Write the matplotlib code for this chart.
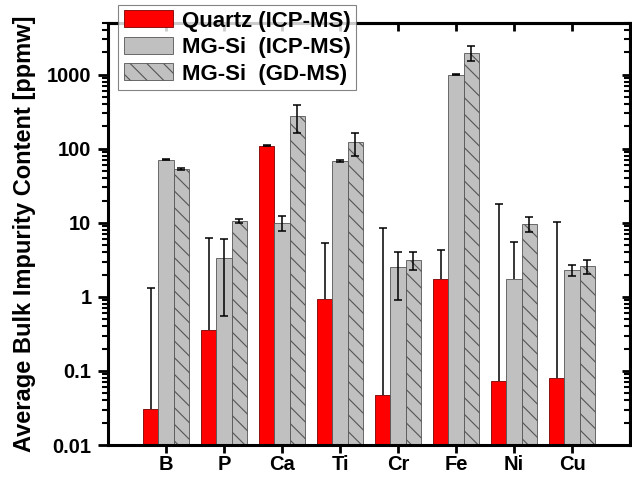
import numpy as np
import matplotlib.pyplot as plt

plt.rcParams['font.family'] = ['Liberation Sans', 'DejaVu Sans']
plt.rcParams['font.weight'] = 'bold'
plt.rcParams['hatch.linewidth'] = 0.8
plt.rcParams['hatch.color'] = '#505050'

elements = ['B', 'P', 'Ca', 'Ti', 'Cr', 'Fe', 'Ni', 'Cu']

quartz_icp = [0.031, 0.36, 110, 0.95, 0.047, 1.73, 0.073, 0.081]
quartz_icp_err = [1.30, 5.8, 1.0, 4.35, 8.6, 2.6, 17.7, 10.3]

mgsi_icp = [71, 3.3, 10.0, 68, 2.5, 1000, 1.73, 2.3]
mgsi_icp_err = [1.2, 2.75, 2.3, 1.5, 1.6, 8, 3.85, 0.39]

mgsi_gdms = [53, 10.6, 277, 122, 3.15, 1990, 9.7, 2.6]
mgsi_gdms_err = [1.3, 0.6, 115, 41, 0.85, 470, 2.15, 0.55]

fig = plt.figure(figsize=(6.32, 4.78), dpi=100)
ax = fig.add_axes([0.171, 0.069, 0.826, 0.883])

x = np.arange(1, len(elements) + 1)
w = 0.264


def draw_err(xpos, vals, errs):
    # lower half is dropped where it would cross zero on the log axis
    vals = np.array(vals)
    errs = np.array(errs)
    ok = vals - errs > 0
    lower = np.where(ok, errs, 0)
    _, caps, _ = ax.errorbar(xpos, vals, yerr=[lower, errs], fmt='none', ecolor='black',
                             elinewidth=1.1, capsize=3, capthick=1.1, zorder=3)
    caps[0].set_data(xpos[ok], (vals - errs)[ok])


ax.bar(x - w, quartz_icp, w, color='#ff0000', edgecolor='#7a0000', linewidth=0.6,
       label='Quartz (ICP-MS)')
ax.bar(x, mgsi_icp, w, color='#c0c0c0', edgecolor='#555555', linewidth=0.6,
       label='MG-Si  (ICP-MS)')
ax.bar(x + w, mgsi_gdms, w, color='#c0c0c0', edgecolor='#555555', linewidth=0.6,
       hatch='\\\\', label='MG-Si  (GD-MS)')
draw_err(x - w, quartz_icp, quartz_icp_err)
draw_err(x, mgsi_icp, mgsi_icp_err)
draw_err(x + w, mgsi_gdms, mgsi_gdms_err)

ax.set_yscale('log')
ax.set_ylim(0.01, 5000)
ax.set_xlim(0, 9)
ax.set_xticks(x)
ax.set_xticklabels(elements, fontsize=14.5, fontweight='bold')
ax.set_yticks([0.01, 0.1, 1, 10, 100, 1000])
ax.set_yticklabels(['0.01', '0.1', '1', '10', '100', '1000'], fontsize=14.5, fontweight='bold')
ax.set_ylabel('Average Bulk Impurity Content [ppmw]', fontsize=17, fontweight='bold', labelpad=8)

for s in ax.spines.values():
    s.set_linewidth(2.2)
ax.tick_params(axis='both', which='major', direction='out', length=7, width=2, pad=5)
ax.tick_params(axis='x', which='major', length=6, pad=1.5)
ax.tick_params(axis='y', which='minor', direction='out', length=4.5, width=1.5)

# mirrored ticks on top and right, pointing inwards
top = ax.secondary_xaxis('top')
top.set_xticks(x)
top.tick_params(direction='in', length=6, width=2, labeltop=False)
right = ax.secondary_yaxis('right')
right.set_yticks([0.01, 0.1, 1, 10, 100, 1000])
right.tick_params(which='major', direction='in', length=6, width=2, labelright=False)
right.tick_params(which='minor', direction='in', length=4, width=1.5, labelright=False)
for sec in (top, right):
    for s in sec.spines.values():
        s.set_linewidth(2.2)

leg = fig.legend(loc='upper left', bbox_to_anchor=(0.187, 0.99),
                 prop={'weight': 'bold', 'size': 16}, frameon=True, fancybox=False,
                 edgecolor='#666666', handlelength=2.2, handleheight=0.8,
                 borderpad=0.25, labelspacing=0.24, handletextpad=0.4, borderaxespad=0)
leg.get_frame().set_linewidth(0.8)
leg.set_zorder(5)

fig.savefig('out.png', dpi=100)
